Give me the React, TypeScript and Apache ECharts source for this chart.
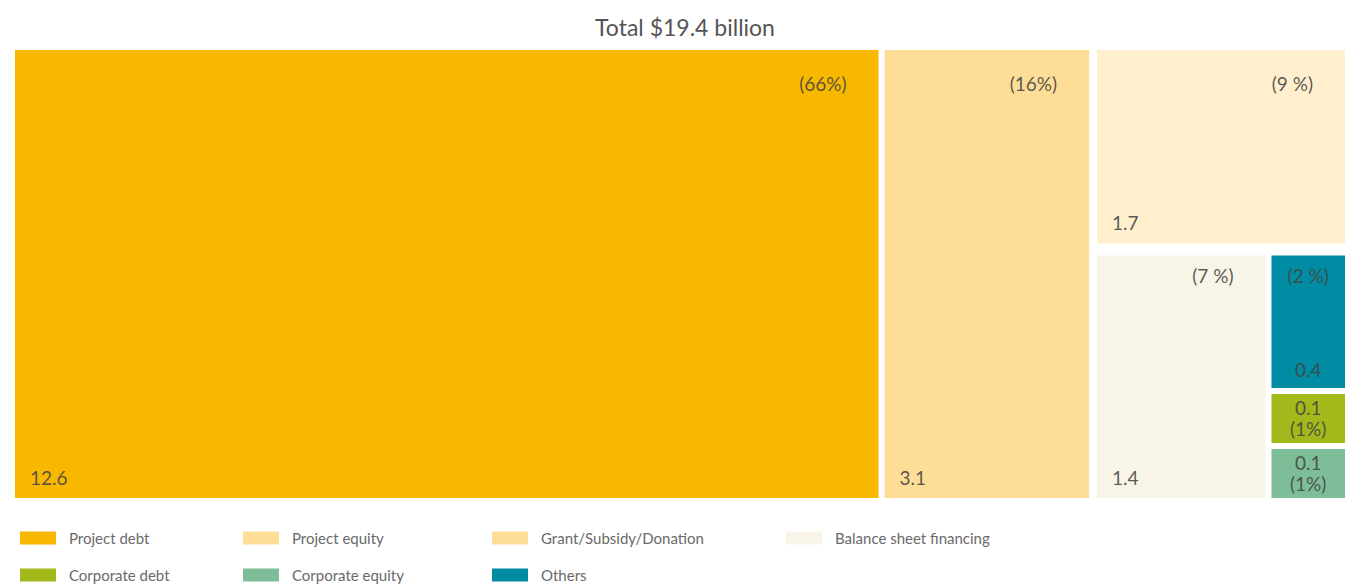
import React, { useEffect, useRef } from 'react';
import * as echarts from 'echarts';

const categories = [
  'Project debt',
  'Project equity',
  'Grant/Subsidy/Donation',
  'Balance sheet financing',
  'Others',
  'Corporate debt',
  'Corporate equity',
];
const values = [12.64, 3.06, 1.66, 1.42, 0.36, 0.14, 0.14];
const percentLabels = ['(66%)', '(16%)', '(9 %)', '(7 %)', '(2 %)', '(1%)', '(1%)'];
const tileColors = ['#F8B800', '#FEDD96', '#FFEFCD', '#F8F4E7', '#008CA3', '#A3B81A', '#7DBD98'];
const legendColors = ['#F8B800', '#FEDD96', '#FEDD96', '#F8F4E7', '#008CA3', '#A3B81A', '#7DBD98'];
const titleText = 'Total $19.4 billion';

const FONT = 'Lato, "Noto Sans", sans-serif';
const LABEL_COLOR = 'rgba(68,68,68,0.88)';

// slice-and-dice layout in value space: [x0, x1, y0, y1]
function layoutTiles(v: number[]) {
  const T = v.reduce((a, b) => a + b, 0);
  const c1 = v[0];
  const c2 = v[0] + v[1];
  const s3 = v.slice(2).reduce((a, b) => a + b, 0);
  const yb = v[2] / s3;
  const rest = s3 - v[2];
  const xb = c2 + ((T - c2) * v[3]) / rest;
  const sm = v[4] + v[5] + v[6];
  const y4 = yb + ((1 - yb) * v[4]) / sm;
  const y5 = y4 + ((1 - yb) * v[5]) / sm;
  return {
    total: T,
    split: yb,
    col3: c2,
    rects: [
      [0, c1, 0, 1],
      [c1, c2, 0, 1],
      [c2, T, 0, yb],
      [c2, xb, yb, 1],
      [xb, T, yb, y4],
      [xb, T, y4, y5],
      [xb, T, y5, 1],
    ],
  };
}

export default function App() {
  const ref = useRef<HTMLDivElement>(null);
  useEffect(() => {
    if (!ref.current) return;
    const chart = echarts.init(ref.current, undefined, { renderer: 'svg' });
    const lay = layoutTiles(values);
    const gap = 3;

    const makeRender = (i: number) => (params: any, api: any) => {
      const x0 = api.value(0), x1 = api.value(1), y0 = api.value(2), y1 = api.value(3);
      const p0 = api.coord([x0, y0]);
      const p1 = api.coord([x1, y1]);
      let left = p0[0] + gap;
      let right = p1[0] - gap;
      let top = p0[1] + gap;
      let bottom = p1[1] - gap;
      const inCol3 = x0 >= lay.col3 - 1e-9;
      if (inCol3 && Math.abs(y1 - lay.split) < 1e-9) bottom -= 3;
      if (inCol3 && Math.abs(y0 - lay.split) < 1e-9) top += 3;
      if (inCol3 && Math.abs(x0 - lay.col3) < 1e-9) left += 2;
      const w = right - left;
      const h = bottom - top;
      const valText = (Math.round(values[i] * 10) / 10).toFixed(1);
      const pctText = percentLabels[i];
      const children: any[] = [
        {
          type: 'rect',
          shape: { x: left, y: top, width: w, height: h },
          style: { fill: tileColors[i] },
        },
      ];
      const ts = { fontSize: 19, fontFamily: FONT, fill: LABEL_COLOR };
      if (w > 100) {
        const topOff = y0 < 1e-9 ? 33 : 20;
        children.push({
          type: 'text',
          style: { ...ts, text: valText, x: left + 15, y: bottom - 21, textAlign: 'left', textVerticalAlign: 'middle' },
        });
        children.push({
          type: 'text',
          style: { ...ts, text: pctText, x: right - 32, y: top + topOff, textAlign: 'right', textVerticalAlign: 'middle' },
        });
      } else if (h > 100) {
        const cx = (left + right) / 2;
        children.push({
          type: 'text',
          style: { ...ts, text: pctText, x: cx, y: top + 20, textAlign: 'center', textVerticalAlign: 'middle' },
        });
        children.push({
          type: 'text',
          style: { ...ts, text: valText, x: cx, y: bottom - 19, textAlign: 'center', textVerticalAlign: 'middle' },
        });
      } else {
        const cx = (left + right) / 2;
        const cy = (top + bottom) / 2;
        children.push({
          type: 'text',
          style: { ...ts, text: valText, x: cx, y: cy - 11, textAlign: 'center', textVerticalAlign: 'middle' },
        });
        children.push({
          type: 'text',
          style: { ...ts, text: pctText, x: cx, y: cy + 10, textAlign: 'center', textVerticalAlign: 'middle' },
        });
      }
      return { type: 'group', children };
    };

    const legendColumns = [[0, 5], [1, 6], [2, 4], [3]];
    const legendLeft = [20, 243, 492, 786];

    chart.setOption({
      animation: false,
      grid: { left: 12, top: 47, width: 1342, height: 454 },
      xAxis: { type: 'value', min: 0, max: lay.total, show: false },
      yAxis: { type: 'value', min: 0, max: 1, inverse: true, show: false },
      graphic: [
        {
          type: 'text',
          x: 685,
          y: 27,
          style: {
            text: titleText,
            fontSize: 23,
            fontFamily: FONT,
            fill: '#555',
            textAlign: 'center',
            textVerticalAlign: 'middle',
          },
        },
      ],
      legend: legendColumns.map((col, k) => ({
        data: col.map((i) => ({ name: categories[i], icon: 'rect' })),
        orient: 'vertical',
        left: legendLeft[k],
        top: 529,
        padding: 0,
        itemWidth: 36,
        itemHeight: 13,
        itemGap: 19,
        selectedMode: false,
        textStyle: { fontSize: 15, color: '#6a6a6a', fontFamily: FONT, lineHeight: 18, padding: [0, 0, 0, 8] },
      })),
      series: categories.map((name, i) => ({
        type: 'custom',
        name,
        coordinateSystem: 'cartesian2d',
        itemStyle: { color: legendColors[i] },
        encode: { x: [0, 1], y: [2, 3] },
        data: [lay.rects[i]],
        renderItem: makeRender(i),
        clip: false,
        silent: true,
      })),
    });
    return () => chart.dispose();
  }, []);
  return (
    <div
      ref={ref}
      style={{ position: 'fixed', left: 0, top: 0, width: 1348, height: 585, background: '#fff' }}
    />
  );
}
